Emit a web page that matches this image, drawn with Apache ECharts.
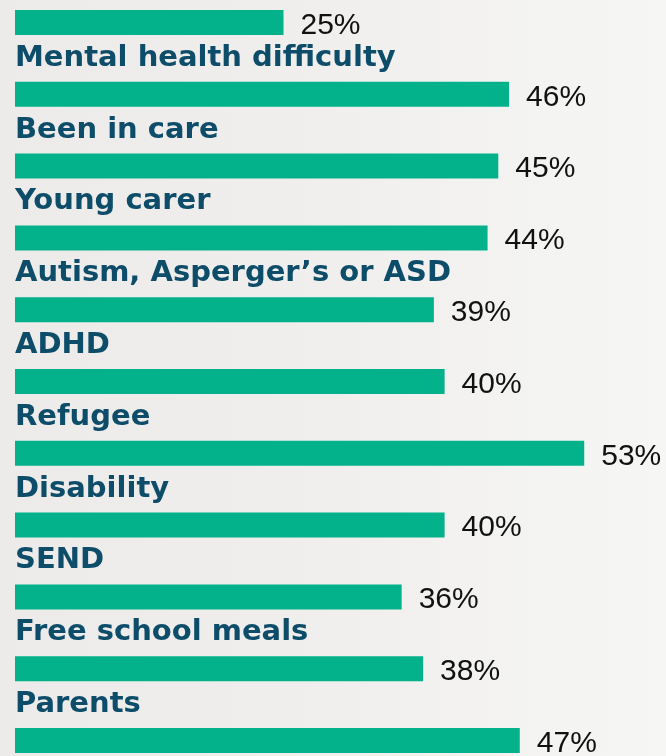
<!DOCTYPE html>
<html>
<head>
<meta charset="utf-8">
<script src="https://cdn.jsdelivr.net/npm/echarts@6/dist/echarts.min.js"></script>
<style>
  html, body { margin: 0; padding: 0; background: #f0efed; }
  #chart { width: 666px; height: 756px; }
</style>
</head>
<body>
<div id="chart"></div>
<script>
// Groups, top to bottom (the first group's heading sits above the visible area)
const categories = [
  '',
  'Mental health difficulty',
  'Been in care',
  'Young carer',
  'Autism, Asperger\u2019s or ASD',
  'ADHD',
  'Refugee',
  'Disability',
  'SEND',
  'Free school meals',
  'Parents'
];
// Share of each group, in percent
const values = [25, 46, 45, 44, 39, 40, 53, 40, 36, 38, 47];

const chart = echarts.init(document.getElementById('chart'));

chart.setOption({
  // soft paper tone, a little greyer on the left
  backgroundColor: new echarts.graphic.LinearGradient(0, 0, 1, 0, [
    { offset: 0, color: '#ecebe9' },
    { offset: 0.5, color: '#f0efed' },
    { offset: 1, color: '#f6f6f5' }
  ]),
  animation: false,
  grid: {
    left: 15,
    width: 644.4,
    top: -13.4,
    height: 789.8,
    containLabel: false,
    outerBoundsMode: 'none'
  },
  xAxis: {
    type: 'value',
    min: 0,
    max: 60,
    show: false
  },
  yAxis: {
    type: 'category',
    data: categories,
    inverse: true,
    show: false
  },
  series: [
    {
      type: 'bar',
      data: values,
      barWidth: 25,
      itemStyle: { color: '#03b18a' },
      label: {
        show: true,
        position: 'right',
        distance: 17,
        offset: [0, 3],
        formatter: p => p.value + '%',
        fontFamily: 'Liberation Sans, Arial, sans-serif',
        fontSize: 30,
        color: '#111111'
      },
      z: 2
    },
    {
      // category headings drawn just above each bar
      type: 'bar',
      data: values,
      barWidth: 25,
      barGap: '-100%',
      itemStyle: { color: 'rgba(0,0,0,0)' },
      label: {
        show: true,
        position: [0, -23.5],
        align: 'left',
        verticalAlign: 'middle',
        formatter: p => p.name,
        fontFamily: 'DejaVu Sans, sans-serif',
        fontWeight: 'bold',
        fontSize: 29,
        color: '#0e4d6a'
      },
      z: 3
    }
  ]
});
</script>
</body>
</html>
